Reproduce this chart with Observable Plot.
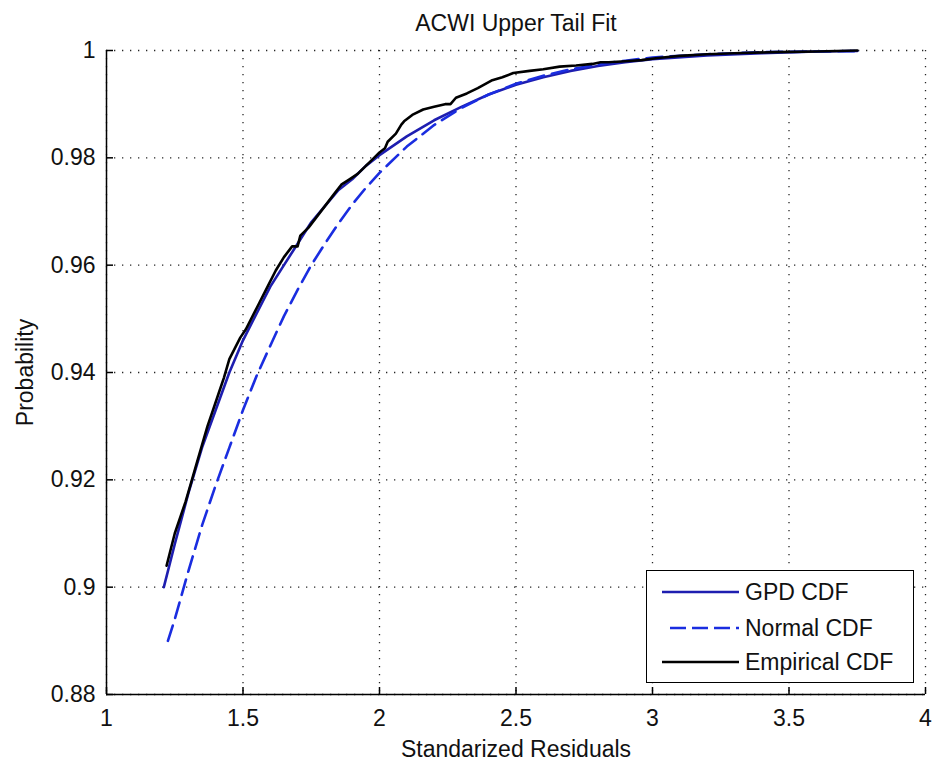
<!DOCTYPE html>
<html><head><meta charset="utf-8">
<script src="https://cdn.jsdelivr.net/npm/d3@7"></script>
<script src="https://cdn.jsdelivr.net/npm/@observablehq/plot@0.6"></script>
<style>
body{margin:0;background:#fff;font-family:"Liberation Sans",Arial,sans-serif;}
#wrap{position:relative;width:932px;height:766px;}
#legend{position:absolute;left:646px;top:570px;width:266px;height:111px;border:1.5px solid #000;background:#fff;box-sizing:content-box;}
#legend .row{position:absolute;left:0;height:30px;display:flex;align-items:center;}
#legend .row span{font-size:23px;color:#111;margin-left:6px;}
</style></head><body><div id="wrap"></div>
<script>
const title = "ACWI Upper Tail Fit";
const xLabel = "Standarized Residuals";
const yLabel = "Probability";
const xTicks = [1, 1.5, 2, 2.5, 3, 3.5, 4];
const xTickLabels = ["1", "1.5", "2", "2.5", "3", "3.5", "4"];
const yTicks = [0.88, 0.9, 0.92, 0.94, 0.96, 0.98, 1];
const yTickLabels = ["0.88", "0.9", "0.92", "0.94", "0.96", "0.98", "1"];
const seriesNames = ["GPD CDF", "Normal CDF", "Empirical CDF"];

// GPD CDF (solid blue)
const gpdX = [1.21, 1.25, 1.30, 1.35, 1.40, 1.45, 1.50, 1.55, 1.60, 1.65, 1.70, 1.75, 1.80, 1.85, 1.90, 1.95, 2.00, 2.10, 2.20, 2.30, 2.40, 2.50, 2.60, 2.70, 2.80, 2.90, 3.00, 3.20, 3.40, 3.60, 3.75];
const gpdY = [0.900, 0.908, 0.9175, 0.926, 0.933, 0.940, 0.946, 0.951, 0.956, 0.960, 0.964, 0.968, 0.971, 0.974, 0.976, 0.9785, 0.9805, 0.984, 0.987, 0.9895, 0.9918, 0.9936, 0.995, 0.9962, 0.9971, 0.9978, 0.9984, 0.9991, 0.9995, 0.9998, 0.9999];

// Normal CDF (dashed blue)
const normX = [1.225, 1.25, 1.30, 1.35, 1.40, 1.45, 1.50, 1.55, 1.60, 1.65, 1.70, 1.75, 1.80, 1.85, 1.90, 1.95, 2.00, 2.10, 2.20, 2.30, 2.40, 2.50, 2.60, 2.70, 2.80, 2.90, 3.00, 3.20, 3.40, 3.60, 3.75];
const normY = [0.890, 0.894, 0.903, 0.9115, 0.919, 0.926, 0.933, 0.9394, 0.945, 0.9505, 0.9554, 0.960, 0.964, 0.9678, 0.9713, 0.9744, 0.9772, 0.9821, 0.9861, 0.9893, 0.9918, 0.9938, 0.9953, 0.9965, 0.9974, 0.9981, 0.9987, 0.9993, 0.9997, 0.9998, 0.9999];

// Empirical CDF (black, jagged)
const empX = [1.22, 1.23, 1.24, 1.25, 1.27, 1.29, 1.31, 1.33, 1.35, 1.37, 1.39, 1.41, 1.43, 1.45, 1.47, 1.49, 1.51, 1.53, 1.56, 1.59, 1.62, 1.65, 1.68, 1.70, 1.71, 1.74, 1.77, 1.80, 1.83, 1.86, 1.89, 1.92, 1.95, 1.98, 2.00, 2.02, 2.03, 2.06, 2.08, 2.09, 2.12, 2.16, 2.20, 2.24, 2.26, 2.28, 2.32, 2.36, 2.41, 2.45, 2.49, 2.55, 2.60, 2.66, 2.72, 2.78, 2.81, 2.84, 2.90, 2.96, 3.02, 3.10, 3.20, 3.30, 3.45, 3.60, 3.75];
const empY = [0.904, 0.906, 0.908, 0.910, 0.913, 0.916, 0.9195, 0.923, 0.9265, 0.930, 0.933, 0.936, 0.939, 0.9425, 0.9445, 0.9465, 0.948, 0.950, 0.953, 0.956, 0.959, 0.9615, 0.9635, 0.9635, 0.9655, 0.967, 0.969, 0.971, 0.973, 0.975, 0.976, 0.977, 0.9785, 0.980, 0.981, 0.9818, 0.983, 0.9845, 0.9862, 0.9868, 0.988, 0.989, 0.9895, 0.990, 0.990, 0.9912, 0.992, 0.993, 0.9944, 0.995, 0.9958, 0.9962, 0.9965, 0.997, 0.9972, 0.9975, 0.9978, 0.9978, 0.998, 0.9982, 0.9986, 0.999, 0.9993, 0.9995, 0.9997, 0.9998, 1.0];

const colors = ["#1e1eb0", "#1a2de0", "#000000"];

const toRows = (xs, ys) => xs.map((x, i) => ({x, y: ys[i]}));
const gpd = toRows(gpdX, gpdY);
const norm = toRows(normX, normY);
const emp = toRows(empX, empY);

const W = 932, H = 766, mL = 106, mR = 7, mT = 50, mB = 72, tick = 7;
const plot = Plot.plot({
  width: W, height: H,
  marginLeft: mL, marginRight: mR, marginTop: mT, marginBottom: mB,
  style: {fontFamily: "Liberation Sans, Arial, sans-serif", fontSize: "23px", color: "#111", background: "#fff"},
  x: {domain: [1, 4]},
  y: {domain: [0.88, 1]},
  marks: [
    Plot.gridX(xTicks, {stroke: "#000", strokeOpacity: 0.85, strokeWidth: 1.3, strokeDasharray: "1.3,6.7"}),
    Plot.gridY(yTicks, {stroke: "#000", strokeOpacity: 0.85, strokeWidth: 1.3, strokeDasharray: "1.3,6.7"}),
    Plot.line(gpd, {x: "x", y: "y", stroke: colors[0], strokeWidth: 2.6}),
    Plot.line(norm, {x: "x", y: "y", stroke: colors[1], strokeWidth: 2.6, strokeDasharray: "16,8"}),
    Plot.line(emp, {x: "x", y: "y", stroke: colors[2], strokeWidth: 2.6}),
    Plot.ruleX([1], {stroke: "#000", strokeWidth: 1.5}),
    Plot.ruleY([0.88], {stroke: "#000", strokeWidth: 1.5}),
    Plot.tickX(xTicks, {x: d => d, stroke: "#000", strokeWidth: 1.5, insetTop: (H - mT - mB) - tick}),
    Plot.tickY(yTicks, {y: d => d, stroke: "#000", strokeWidth: 1.5, insetRight: (W - mL - mR) - tick}),
    Plot.axisX(xTicks, {tickSize: 0, tickPadding: 15, tickFormat: (d, i) => xTickLabels[i], label: xLabel, labelAnchor: "center", labelOffset: 62, labelArrow: "none"}),
    Plot.axisY(yTicks, {tickSize: 0, tickPadding: 11, tickFormat: (d, i) => yTickLabels[i], label: yLabel, labelAnchor: "center", labelOffset: 90, labelArrow: "none"}),
    Plot.text([title], {frameAnchor: "top", lineAnchor: "bottom", dy: -20, fontSize: 23, fill: "#111"})
  ]
});
const wrap = document.getElementById("wrap");
wrap.appendChild(plot);

// legend
const lg = document.createElement("div");
lg.id = "legend";
const rowsTop = [6, 42, 76];
const dashes = [null, "16,6", null];
seriesNames.forEach((name, i) => {
  const r = document.createElement("div");
  r.className = "row";
  r.style.top = rowsTop[i] + "px";
  r.style.left = "15px";
  const s = d3.create("svg").attr("width", 77).attr("height", 30);
  s.append("line").attr("x1", dashes[i] ? 8 : 0).attr("x2", 77).attr("y1", 15).attr("y2", 15)
    .attr("stroke", colors[i]).attr("stroke-width", 2.6).attr("stroke-dasharray", dashes[i]);
  r.appendChild(s.node());
  const t = document.createElement("span");
  t.textContent = name;
  r.appendChild(t);
  lg.appendChild(r);
});
wrap.appendChild(lg);
</script></body></html>
